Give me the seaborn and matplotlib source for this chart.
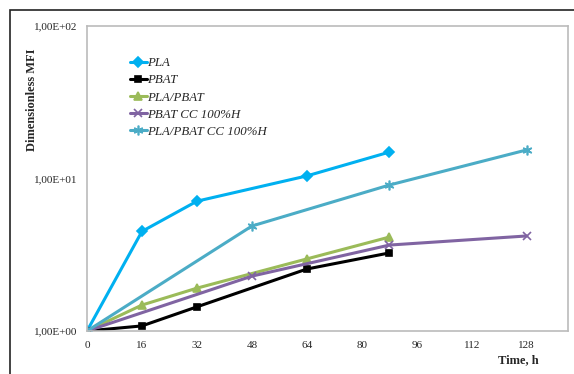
import numpy as np
import pandas as pd
import matplotlib
matplotlib.use('Agg')
import matplotlib.pyplot as plt
import seaborn as sns
from matplotlib.ticker import FixedLocator, FixedFormatter, NullLocator
from matplotlib.patches import Rectangle

sns.set_style('white')
plt.rcParams['font.family'] = ['Liberation Serif', 'DejaVu Serif']

# data
labels = ['PLA', 'PBAT', 'PLA/PBAT', 'PBAT CC 100%H', 'PLA/PBAT CC 100%H']
t_pla = [0, 16, 32, 64, 88]
mfi_pla = [1.0, 4.5, 7.1, 10.4, 14.9]
t_pbat = [0, 16, 32, 64, 88]
mfi_pbat = [1.0, 1.08, 1.44, 2.55, 3.25]
t_blend = [0, 16, 32, 64, 88]
mfi_blend = [1.0, 1.48, 1.91, 2.97, 4.13]
t_pbat_cc = [0, 48, 88, 128]
mfi_pbat_cc = [1.0, 2.29, 3.66, 4.2]
t_blend_cc = [0, 48, 88, 128]
mfi_blend_cc = [1.0, 4.88, 9.06, 15.4]

times = [t_pla, t_pbat, t_blend, t_pbat_cc, t_blend_cc]
values = [mfi_pla, mfi_pbat, mfi_blend, mfi_pbat_cc, mfi_blend_cc]
colors = ['#00B0F0', '#000000', '#9BBB59', '#8064A2', '#4BACC6']
markers = ['D', 's', '^', 'x', (6, 2, 0)]
msizes = [5, 5, 6, 6, 7]

fig = plt.figure(figsize=(5.74, 3.74), dpi=100)
fig.patches.append(Rectangle((10 / 574, -0.1), 1.2, (364 / 374) + 0.1,
                             transform=fig.transFigure, fill=False,
                             edgecolor='#222222', linewidth=1.2))
ax = fig.add_axes([87 / 574, 43 / 374, 481 / 574, 305 / 374])

for lab, t, v, c, m, ms in zip(labels, times, values, colors, markers, msizes):
    df = pd.DataFrame({'Time': t, 'MFI': v})
    sns.lineplot(data=df, x='Time', y='MFI', ax=ax, color=c, marker=m,
                 markersize=ms, markeredgecolor=c, markeredgewidth=1.2,
                 linewidth=2.2, label=lab)

ax.set_yscale('log')
ax.set_ylim(1, 100)
ax.set_xlim(0, 140)
ax.yaxis.set_major_locator(FixedLocator([1, 10, 100]))
ax.yaxis.set_major_formatter(FixedFormatter(['1,00E+00', '1,00E+01', '1,00E+02']))
ax.yaxis.set_minor_locator(NullLocator())
ax.set_xticks(np.arange(0, 129, 16))
ax.tick_params(axis='x', direction='out', length=4, color='#BBBBBB', labelsize=8, pad=3)
ax.tick_params(axis='y', direction='out', length=3, color='#BBBBBB', labelsize=8, pad=4)
for s in ax.spines.values():
    s.set_color('#BBBBBB')
    s.set_linewidth(1.2)
ax.grid(False)

ax.set_xlabel('')
ax.set_ylabel('Dimensionless MFI', fontweight='bold', fontsize=9)
ax.yaxis.set_label_coords(-0.101, 0.757)
fig.text(518 / 574, 1 - 360 / 374, 'Time, h', fontweight='bold', fontsize=9,
         ha='center', va='center')

leg = ax.legend(loc='upper left', bbox_to_anchor=(0.089, 0.898), frameon=False,
                prop={'style': 'italic', 'size': 9.3}, handlelength=1.3,
                handletextpad=0.05, labelspacing=0.4, borderaxespad=0,
                borderpad=0)

fig.savefig('out.png', dpi=100)
